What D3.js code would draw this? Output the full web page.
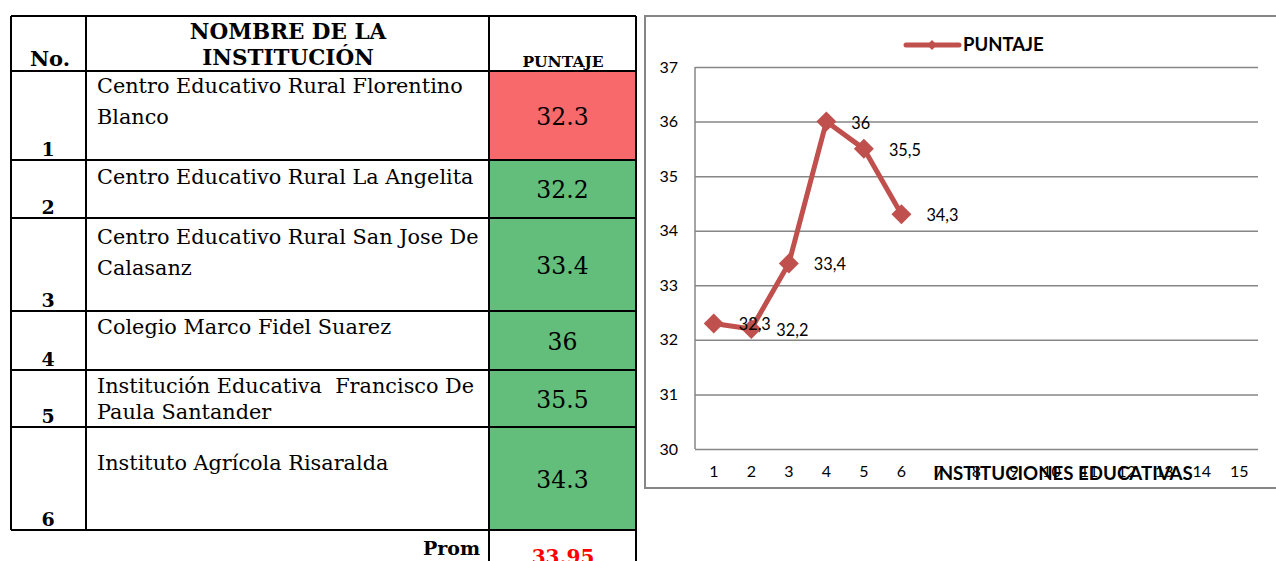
<!DOCTYPE html>
<html>
<head>
<meta charset="utf-8">
<script src="https://cdn.jsdelivr.net/npm/d3@7"></script>
<style>
  html, body { margin: 0; padding: 0; background: #fff; }
  svg { display: block; }
</style>
</head>
<body>
<svg id="chart" width="1276" height="561"></svg>
<script>
// ---------------- DATA ----------------
const rowNumbers = [1, 2, 3, 4, 5, 6];
const institutionNames = [
  ["Centro Educativo Rural Florentino", "Blanco"],
  ["Centro Educativo Rural La Angelita"],
  ["Centro Educativo Rural San Jose De", "Calasanz"],
  ["Colegio Marco Fidel Suarez"],
  ["Institución Educativa  Francisco De", "Paula Santander"],
  ["Instituto Agrícola Risaralda"]
];
const puntaje = [32.3, 32.2, 33.4, 36, 35.5, 34.3];
const headerNo = "No.";
const headerName = ["NOMBRE DE LA", "INSTITUCIÓN"];
const headerScore = "PUNTAJE";
const promLabel = "Prom";
const seriesName = "PUNTAJE";
const xAxisTitle = "INSTITUCIONES EDUCATIVAS";
const xCategories = d3.range(1, 16);
const yTicks = [30, 31, 32, 33, 34, 35, 36, 37];

// ---------------- LAYOUT / STYLE ----------------
const rowEdges = [71, 160, 218, 311, 370, 427, 530]; // table row boundaries
const tableTop = 16, colX = [11, 86, 489, 636];
const nameLineGap = [31, 0, 31, 0, 26, 0];
const nameFirstBaseline = [93, 184, 244, 334, 393, 470];
const cellFill = ["#F8696B", "#63BE7B", "#63BE7B", "#63BE7B", "#63BE7B", "#63BE7B"];
const serif = "'DejaVu Serif', 'Liberation Serif', serif";
const sans = "Lato, 'Open Sans', sans-serif";
const lineColor = "#C0504D";

const svg = d3.select("#chart");

// ---------------- TABLE ----------------
const tbl = svg.append("g");
const rows = tbl.selectAll("g.row").data(puntaje).join("g").attr("class", "row");

rows.append("rect")
  .attr("x", colX[2]).attr("width", colX[3] - colX[2])
  .attr("y", (d, i) => rowEdges[i]).attr("height", (d, i) => rowEdges[i + 1] - rowEdges[i])
  .attr("fill", (d, i) => cellFill[i]);

rows.append("text")
  .attr("x", (colX[2] + colX[3]) / 2)
  .attr("y", (d, i) => (rowEdges[i] + rowEdges[i + 1]) / 2 + 9)
  .attr("text-anchor", "middle")
  .attr("font-family", serif).attr("font-size", 23.5).attr("fill", "#000")
  .text(d => String(d));

rows.append("text")
  .attr("x", 48)
  .attr("y", (d, i) => rowEdges[i + 1] - 4)
  .attr("text-anchor", "middle")
  .attr("font-family", serif).attr("font-weight", "bold").attr("font-size", 19).attr("fill", "#000")
  .text((d, i) => rowNumbers[i]);

rows.each(function (d, i) {
  d3.select(this).selectAll("text.name").data(institutionNames[i]).join("text")
    .attr("class", "name")
    .attr("x", 97)
    .attr("y", (t, j) => nameFirstBaseline[i] + j * nameLineGap[i])
    .attr("font-family", serif).attr("font-size", 20.8).attr("fill", "#000")
    .attr("xml:space", "preserve")
    .style("white-space", "pre")
    .text(t => t);
});

// header
tbl.append("text").attr("x", 50).attr("y", 66).attr("text-anchor", "middle")
  .attr("font-family", serif).attr("font-weight", "bold").attr("font-size", 21).text(headerNo);
tbl.selectAll("text.hname").data(headerName).join("text").attr("class", "hname")
  .attr("x", 288).attr("y", (t, j) => 39 + j * 26).attr("text-anchor", "middle")
  .attr("font-family", serif).attr("font-weight", "bold").attr("font-size", 21.5).text(t => t);
tbl.append("text").attr("x", 563).attr("y", 67).attr("text-anchor", "middle")
  .attr("font-family", serif).attr("font-weight", "bold").attr("font-size", 15.5).text(headerScore);

// prom
const prom = d3.mean(puntaje);
tbl.append("text").attr("x", 480).attr("y", 555).attr("text-anchor", "end")
  .attr("font-family", serif).attr("font-weight", "bold").attr("font-size", 19).text(promLabel);
tbl.append("text").attr("x", 563).attr("y", 564).attr("text-anchor", "middle")
  .attr("font-family", serif).attr("font-weight", "bold").attr("font-size", 20).attr("fill", "#FF0000")
  .text(d3.format(".2f")(prom));

// grid lines
const lines = tbl.append("g").attr("stroke", "#000").attr("stroke-width", 2).attr("fill", "none");
[tableTop].concat(rowEdges).forEach(y => {
  lines.append("line").attr("x1", colX[0]).attr("x2", colX[3]).attr("y1", y).attr("y2", y);
});
colX.forEach(x => {
  lines.append("line").attr("x1", x).attr("x2", x).attr("y1", tableTop).attr("y2", rowEdges[rowEdges.length - 1]);
});
[colX[2], colX[3]].forEach(x => {
  lines.append("line").attr("x1", x).attr("x2", x).attr("y1", rowEdges[rowEdges.length - 1]).attr("y2", 561);
});

// ---------------- CHART ----------------
const chart = svg.append("g");
chart.append("rect").attr("x", 645).attr("y", 16).attr("width", 700).attr("height", 472)
  .attr("fill", "#fff").attr("stroke", "#868686").attr("stroke-width", 2);

const x = d3.scaleBand().domain(xCategories).range([695, 1258]);
const y = d3.scaleLinear().domain([30, 37]).range([449, 67]);

const gy = chart.append("g").attr("transform", "translate(695,0)")
  .call(d3.axisLeft(y).tickValues(yTicks).tickSize(-(1258 - 695)).tickPadding(17).tickFormat(d3.format("d")));
gy.select(".domain").attr("stroke", "#868686").attr("stroke-width", 1.5).attr("d", `M0,${y(37)}V${y(30)}`);
gy.selectAll(".tick line").attr("stroke", "#868686").attr("stroke-width", 1.5);
gy.selectAll(".tick text").attr("font-family", sans).attr("font-size", 16).attr("fill", "#000");

const gx = chart.append("g").attr("transform", "translate(0,449)")
  .call(d3.axisBottom(x).tickSize(0).tickPadding(17));
gx.select(".domain").remove();
gx.selectAll(".tick text").attr("font-family", sans).attr("font-size", 16).attr("fill", "#000");

chart.append("text").attr("x", 1063).attr("y", 480).attr("text-anchor", "middle")
  .attr("font-family", sans).attr("font-weight", "bold").attr("font-size", 18.7).attr("fill", "#000")
  .text(xAxisTitle);

const pts = puntaje.map((v, i) => ({ c: xCategories[i], v }));
const cx = d => x(d.c) + x.bandwidth() / 2;

chart.append("path").datum(pts)
  .attr("d", d3.line().x(cx).y(d => y(d.v)))
  .attr("fill", "none").attr("stroke", lineColor).attr("stroke-width", 5).attr("stroke-linejoin", "round");

const diamond = d3.symbol().type(d3.symbolSquare).size(200);
chart.selectAll("path.mk").data(pts).join("path").attr("class", "mk")
  .attr("d", diamond)
  .attr("transform", d => `translate(${cx(d)},${y(d.v)}) rotate(45)`)
  .attr("fill", lineColor);

chart.selectAll("text.lbl").data(pts).join("text").attr("class", "lbl")
  .attr("x", d => cx(d) + 25).attr("y", d => y(d.v) + 7)
  .attr("font-family", sans).attr("font-size", 16.3).attr("fill", "#000")
  .text(d => String(d.v).replace(".", ","));

// legend
const lg = chart.append("g");
lg.append("line").attr("x1", 906).attr("x2", 959).attr("y1", 45).attr("y2", 45)
  .attr("stroke", lineColor).attr("stroke-width", 5).attr("stroke-linecap", "round");
lg.append("path").attr("d", d3.symbol().type(d3.symbolSquare).size(50))
  .attr("transform", "translate(932,45) rotate(45)").attr("fill", lineColor);
lg.append("text").attr("x", 963).attr("y", 51)
  .attr("font-family", sans).attr("font-weight", "bold").attr("font-size", 18.5).attr("fill", "#000")
  .text(seriesName);
</script>
</body>
</html>
